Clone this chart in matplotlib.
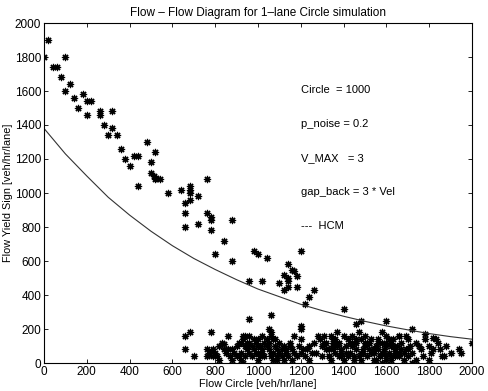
import matplotlib
matplotlib.use("Agg")
import matplotlib.pyplot as plt

plt.rcParams['font.family'] = ['Liberation Sans', 'DejaVu Sans']

# Scatter data (Flow Circle, Flow Yield Sign)
upper_x = [0, 20, 100, 40, 60, 80, 120, 100, 140, 180, 200, 220, 160, 260, 260, 200, 320, 280, 320,
           300, 340, 360, 480, 380, 420, 440, 520, 400, 500, 500, 515, 525, 540, 520, 440, 580, 640,
           680, 680, 680, 720, 760, 660, 680, 660, 660, 760, 780, 780, 720, 780, 880, 840, 800, 880,
           960, 980, 1000, 1040, 1020, 1060, 960, 1200, 1140, 1160, 1170, 1180, 1120, 1140, 1140,
           1100, 1180, 1120, 1140, 1240, 1260, 1220, 1400, 1460, 1480, 1600, 1720, 1780, 1820, 2000,
           1200, 1200]
upper_y = [1800, 1900, 1800, 1740, 1740, 1680, 1640, 1600, 1560, 1580, 1540, 1540, 1500, 1480, 1460,
           1460, 1480, 1400, 1380, 1340, 1340, 1260, 1300, 1200, 1220, 1220, 1240, 1160, 1180, 1120,
           1100, 1090, 1080, 1080, 1040, 1000, 1020, 1040, 1020, 1000, 980, 1080, 940, 960, 880, 800,
           880, 860, 840, 820, 780, 840, 720, 640, 600, 480, 660, 640, 620, 480, 280, 260, 660, 580,
           550, 540, 510, 520, 500, 480, 470, 450, 430, 445, 390, 430, 350, 320, 230, 250, 250, 200,
           170, 150, 120, 220, 200]

low_x = [660, 680, 660, 700, 780, 760, 770, 780, 790, 770, 800, 790, 810, 820, 830, 840, 820, 840,
         850, 860, 870, 880, 880, 890, 900, 910, 920, 920, 930, 930, 940, 930, 950, 940, 960, 960,
         950, 960, 970, 980, 990, 1000, 1000, 1010, 1020, 1030, 1040, 1040, 1050, 1060, 1060, 1050,
         1060, 1070, 1070, 1080, 1090, 1100, 1100, 1110, 1120, 1130, 1140, 1150, 1160, 1160, 1170,
         1180, 1190, 1200, 1200, 1210, 1220, 1240, 1240, 1250, 1260, 1280, 1290, 1300, 1300, 1310,
         1320, 1330, 1340, 1350, 1350, 1360, 1370, 1380, 1380, 1390, 1400, 1400, 1410, 1420, 1430,
         1440, 1440, 1450, 1460, 1460, 1470, 1480, 1480, 1490, 1500, 1500, 1510, 1520, 1520, 1530,
         1540, 1540, 1550, 1560, 1560, 1570, 1580, 1580, 1590, 1600, 1600, 1600, 1610, 1620, 1620,
         1630, 1640, 1640, 1650, 1660, 1660, 1670, 1680, 1690, 1700, 1700, 1710, 1720, 1720, 1740,
         1740, 1760, 1770, 1780, 1800, 1800, 1810, 1830, 1840, 1850, 1860, 1880, 1900, 1940, 1950,
         900, 920, 940, 980, 1000, 1020, 1030, 1060, 1080, 1090, 1110, 1130, 1150, 1170, 1230, 1270,
         1310, 1330, 1350, 1370, 1390, 1410, 1430, 1450, 1470, 1490, 1510, 1530, 1550, 1570, 1590,
         1610, 1630, 1650, 1670, 1690, 1560, 1580, 1620, 1640, 1520, 1540, 1600, 1660, 1360, 1340,
         1320, 1420, 1440, 1480, 1000, 1020, 970, 990, 1120, 760, 860, 1680, 1750, 1820, 1870,
         910, 950, 1010, 1050, 1070, 1090, 1130, 1330, 1350, 1370, 1390, 1460, 1500, 1540, 1580,
         1620, 1660, 1700, 1600, 1640]
low_y = [160, 180, 80, 40, 180, 80, 60, 70, 80, 50, 60, 40, 40, 20, 120, 110, 100, 80,
         60, 160, 40, 80, 20, 60, 40, 40, 60, 20, 0, 160, 160, 140, 120, 100, 160, 120,
         80, 60, 40, 80, 120, 60, 20, 100, 80, 40, 100, 140, 120, 180, 160, 200,
         60, 20, 140, 100, 80, 60, 120, 40, 100, 80, 40, 120, 80, 20, 60,
         40, 100, 140, 60, 80, 40, 100, 20, 60, 120, 160, 140, 100, 40, 160,
         120, 80, 160, 100, 140, 60, 180, 120, 40, 80, 160, 20, 100, 140, 60,
         100, 160, 40, 80, 120, 180, 140, 20, 60, 100, 160, 40, 80, 120, 140,
         20, 60, 100, 140, 80, 40, 120, 0, 80, 160, 100, 40, 60, 120, 20,
         140, 80, 40, 100, 160, 60, 120, 20, 80, 140, 40, 100, 0, 60, 120,
         20, 80, 40, 140, 20, 100, 60, 140, 120, 80, 40, 100, 60, 80, 60,
         100, 120, 40, 140, 100, 60, 120, 40, 140, 20, 80, 60, 100, 160, 80, 60,
         120, 40, 80, 120, 40, 60, 120, 20, 40, 80, 120, 60, 20, 40, 60,
         140, 100, 60, 80, 160, 120, 180, 40, 80, 120, 80, 20, 160, 140, 20,
         80, 40, 120, 60, 140, 160, 100, 60, 20, 40, 80, 60, 100, 80, 40,
         120, 100, 40, 80, 60, 40, 60, 40, 120, 100, 60, 140, 120, 80, 60,
         100, 40, 80, 120, 60]

# HCM curve
hcm_x = [0, 100, 200, 300, 400, 500, 600, 700, 800, 900, 1000, 1100, 1200, 1300, 1400, 1500,
         1600, 1700, 1800, 1900, 2000]
hcm_y = [1380, 1230, 1100, 975, 870, 775, 690, 615, 550, 490, 435, 390, 345, 308, 275, 245,
         218, 195, 173, 155, 140]

ticks = [0, 200, 400, 600, 800, 1000, 1200, 1400, 1600, 1800, 2000]

fig = plt.figure(figsize=(4.88, 3.91), dpi=100)
ax = fig.add_axes([44 / 488, 1 - 363 / 391, (472 - 44) / 488, (363 - 23) / 391])

ax.plot(upper_x + low_x, upper_y + low_y, linestyle='none', marker=(8, 2, 0),
        markersize=5.2, markeredgewidth=0.85, color='black')
ax.plot(hcm_x, hcm_y, color='#333333', linewidth=0.8)

ax.set_xlim(0, 2000)
ax.set_ylim(0, 2000)
ax.set_xticks(ticks)
ax.set_yticks(ticks)
ax.tick_params(direction='in', top=True, right=True, length=3, width=0.6, labelsize=8.5, pad=2)
for s in ax.spines.values():
    s.set_linewidth(0.8)

ann = ["Circle  = 1000", "p_noise = 0.2", "V_MAX   = 3", "gap_back = 3 * Vel", "---  HCM"]
for i, t in enumerate(ann):
    ax.text(1200, 1606 - 200 * i, t, fontsize=8, va='center', ha='left')

ax.set_title("Flow \u2013 Flow Diagram for 1\u2013lane Circle simulation", fontsize=8.5, pad=5)
ax.set_xlabel("Flow Circle [veh/hr/lane]", fontsize=7.8, labelpad=1)
ax.set_ylabel("Flow Yield Sign [veh/hr/lane]", fontsize=7.8, va='center')
ax.yaxis.set_label_coords(-0.083, 0.5)

fig.savefig("out.png", dpi=100)
